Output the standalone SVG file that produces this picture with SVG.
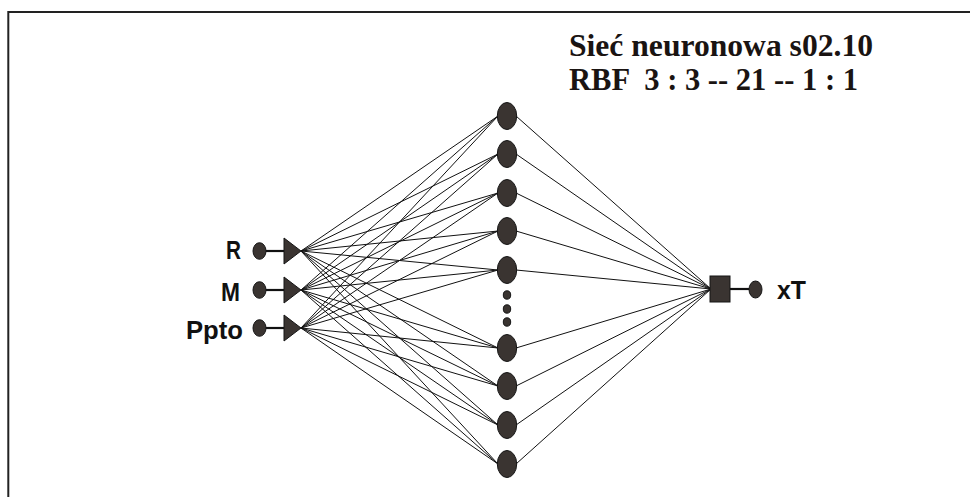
<svg xmlns="http://www.w3.org/2000/svg" width="970" height="497" viewBox="0 0 970 497">
<style>
.n{fill:#3a3431;stroke:#151515;stroke-width:1}
.c line{stroke:#111;stroke-width:1}
.lbl{font-family:"Liberation Sans",Arial,sans-serif;font-weight:bold;font-size:25px;fill:#111}
.ttl{font-family:"Liberation Serif","Times New Roman",serif;font-weight:bold;font-size:31px;fill:#1a1412}
</style>
<rect width="970" height="497" fill="#fff"/>
<path d="M8.3,497 V12 H970" fill="none" stroke="#222" stroke-width="2"/>
<g id="title">
<text class="ttl" x="569" y="56" textLength="304" lengthAdjust="spacingAndGlyphs">Sieć neuronowa s02.10</text>
<text class="ttl" x="569" y="90" xml:space="preserve" textLength="289" lengthAdjust="spacingAndGlyphs">RBF  3 : 3 -- 21 -- 1 : 1</text>
</g>
<g id="connectors" class="c">
<line x1="266" y1="251" x2="284" y2="251" style="stroke-width:2.2"/>
<line x1="266" y1="290" x2="284" y2="290" style="stroke-width:2.2"/>
<line x1="266" y1="328" x2="284" y2="328" style="stroke-width:2.2"/>
<line x1="730" y1="289" x2="749" y2="289" style="stroke-width:2.2"/>
<line x1="301" y1="251" x2="498" y2="116"/><line x1="301" y1="251" x2="498" y2="154"/><line x1="301" y1="251" x2="498" y2="193"/><line x1="301" y1="251" x2="498" y2="231"/><line x1="301" y1="251" x2="498" y2="270"/><line x1="301" y1="251" x2="498" y2="348"/><line x1="301" y1="251" x2="498" y2="386"/><line x1="301" y1="251" x2="498" y2="425"/><line x1="301" y1="251" x2="498" y2="464"/>
<line x1="301" y1="290" x2="498" y2="116"/><line x1="301" y1="290" x2="498" y2="154"/><line x1="301" y1="290" x2="498" y2="193"/><line x1="301" y1="290" x2="498" y2="231"/><line x1="301" y1="290" x2="498" y2="270"/><line x1="301" y1="290" x2="498" y2="348"/><line x1="301" y1="290" x2="498" y2="386"/><line x1="301" y1="290" x2="498" y2="425"/><line x1="301" y1="290" x2="498" y2="464"/>
<line x1="301" y1="328" x2="498" y2="116"/><line x1="301" y1="328" x2="498" y2="154"/><line x1="301" y1="328" x2="498" y2="193"/><line x1="301" y1="328" x2="498" y2="231"/><line x1="301" y1="328" x2="498" y2="270"/><line x1="301" y1="328" x2="498" y2="348"/><line x1="301" y1="328" x2="498" y2="386"/><line x1="301" y1="328" x2="498" y2="425"/><line x1="301" y1="328" x2="498" y2="464"/>
<line x1="516" y1="116" x2="711" y2="289"/><line x1="516" y1="154" x2="711" y2="289"/><line x1="516" y1="193" x2="711" y2="289"/><line x1="516" y1="231" x2="711" y2="289"/><line x1="516" y1="270" x2="711" y2="289"/><line x1="516" y1="348" x2="711" y2="289"/><line x1="516" y1="386" x2="711" y2="289"/><line x1="516" y1="425" x2="711" y2="289"/><line x1="516" y1="464" x2="711" y2="289"/>
</g>
<g id="in-R"><text class="lbl" x="226" y="259" textLength="15" lengthAdjust="spacingAndGlyphs">R</text><ellipse class="n" cx="259.5" cy="251" rx="6.5" ry="8.3"/><polygon class="n" points="284,238 284,264 301,251"/></g>
<g id="in-M"><text class="lbl" x="221" y="301" textLength="19" lengthAdjust="spacingAndGlyphs">M</text><ellipse class="n" cx="259.5" cy="290" rx="6.5" ry="8.3"/><polygon class="n" points="284,277 284,303 301,290"/></g>
<g id="in-Ppto"><text class="lbl" x="186" y="339" textLength="57" lengthAdjust="spacingAndGlyphs">Ppto</text><ellipse class="n" cx="259.5" cy="328" rx="6.5" ry="8.3"/><polygon class="n" points="284,315 284,341 301,328"/></g>
<g id="h1"><ellipse class="n" cx="507" cy="116" rx="9.7" ry="13.5"/></g>
<g id="h2"><ellipse class="n" cx="507" cy="154" rx="9.7" ry="13.5"/></g>
<g id="h3"><ellipse class="n" cx="507" cy="193" rx="9.7" ry="13.5"/></g>
<g id="h4"><ellipse class="n" cx="507" cy="231" rx="9.7" ry="13.5"/></g>
<g id="h5"><ellipse class="n" cx="507" cy="270" rx="9.7" ry="13.5"/></g>
<g id="dots"><ellipse class="n" cx="507" cy="295" rx="3.7" ry="4.2"/><ellipse class="n" cx="507" cy="309" rx="3.7" ry="4.2"/><ellipse class="n" cx="507" cy="322" rx="3.7" ry="4.2"/></g>
<g id="h6"><ellipse class="n" cx="507" cy="348" rx="9.7" ry="13.5"/></g>
<g id="h7"><ellipse class="n" cx="507" cy="386" rx="9.7" ry="13.5"/></g>
<g id="h8"><ellipse class="n" cx="507" cy="425" rx="9.7" ry="13.5"/></g>
<g id="h9"><ellipse class="n" cx="507" cy="464" rx="9.7" ry="13.5"/></g>
<g id="out"><rect class="n" x="710" y="276" width="20" height="26"/><ellipse class="n" cx="755.5" cy="289.5" rx="6.5" ry="8.5"/><text class="lbl" x="777" y="299" textLength="29" lengthAdjust="spacingAndGlyphs">xT</text></g>
</svg>
